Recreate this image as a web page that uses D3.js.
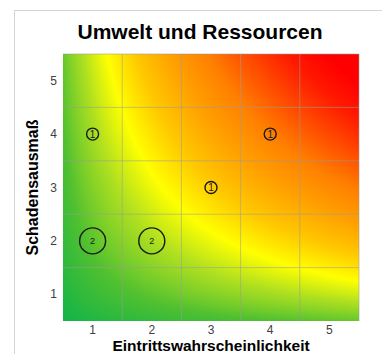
<!DOCTYPE html>
<html>
<head>
<meta charset="utf-8">
<script src="https://cdn.jsdelivr.net/npm/d3@7"></script>
<style>
  body { margin: 0; background: #fff; }
  svg { display: block; font-family: "Liberation Sans", Arial, sans-serif; }
</style>
</head>
<body>
<svg id="chart"></svg>
<script>
/* DATA */
const ticks = [1, 2, 3, 4, 5];
const probability = [1, 4, 3, 1, 2];   // Eintrittswahrscheinlichkeit
const damage = [4, 4, 3, 2, 2];        // Schadensausmaß
const counts = [1, 1, 1, 2, 2];        // number of risks in the cell

// heat map colour stops (risk level 0..1 -> colour)
const riskStops = [0.02, 0.22, 0.37, 0.47, 0.57, 0.67, 0.76, 0.84, 0.93, 1.0];
const riskColors = ["#00b04f", "#50c030", "#b0e020", "#ffff00", "#ffc800",
                    "#ffa000", "#ff8000", "#ff5000", "#ff1a00", "#ff0000"];

/* CONSTANTS */
const width = 382, height = 354;
const margin = { top: 54, right: 23, bottom: 33, left: 63 };

const svg = d3.select("#chart").attr("width", width).attr("height", height);

// outer panel frame
svg.append("rect")
  .attr("x", 14.5).attr("y", 10.5)
  .attr("width", 400).attr("height", 400)
  .attr("fill", "none")
  .attr("stroke", "#d4d4d4");

const x = d3.scaleLinear().domain([0.5, 5.5]).range([margin.left, width - margin.right]);
const y = d3.scaleLinear().domain([0.5, 5.5]).range([height - margin.bottom, margin.top]);
const color = d3.scaleLinear().domain(riskStops).range(riskColors).clamp(true);
const radius = d3.scaleLinear().domain([1, 2]).range([6, 13]);

/// background gradient drawn on a canvas, pixel by pixel
const pw = Math.round(x(5.5) - x(0.5)), ph = Math.round(y(0.5) - y(5.5));
const canvas = document.createElement("canvas");
canvas.width = pw; canvas.height = ph;
const ctx = canvas.getContext("2d");
const img = ctx.createImageData(pw, ph);
for (let j = 0; j < ph; j++) {
  for (let i = 0; i < pw; i++) {
    const u = (i + 0.5) / pw, v = 1 - (j + 0.5) / ph;
    const g = Math.sqrt((u + 0.06) * (v + 0.06));
    const c = d3.rgb(color(g));
    const k = (j * pw + i) * 4;
    img.data[k] = c.r; img.data[k + 1] = c.g; img.data[k + 2] = c.b; img.data[k + 3] = 255;
  }
}
ctx.putImageData(img, 0, 0);

svg.append("image")
  .attr("x", x(0.5)).attr("y", y(5.5))
  .attr("width", pw).attr("height", ph)
  .attr("preserveAspectRatio", "none")
  .attr("href", canvas.toDataURL());

// grid lines at the cell borders
const borders = d3.range(0.5, 6, 1);
svg.append("g").selectAll("line.v")
  .data(borders.slice(1))
  .join("line")
  .attr("x1", d => x(d)).attr("x2", d => x(d))
  .attr("y1", y(0.5)).attr("y2", y(5.5))
  .attr("stroke", "#9a9a9a").attr("stroke-opacity", 0.55);
svg.append("g").selectAll("line.h")
  .data(borders.slice(1))
  .join("line")
  .attr("x1", x(0.5)).attr("x2", x(5.5))
  .attr("y1", d => y(d)).attr("y2", d => y(d))
  .attr("stroke", "#9a9a9a").attr("stroke-opacity", 0.55);

// tick labels
svg.append("g").selectAll("text")
  .data(ticks)
  .join("text")
  .attr("x", d => x(d)).attr("y", 334)
  .attr("text-anchor", "middle")
  .attr("font-size", 12).attr("fill", "#404040")
  .text(d => d);

svg.append("g").selectAll("text")
  .data(ticks)
  .join("text")
  .attr("x", 57).attr("y", d => y(d) + 4)
  .attr("text-anchor", "end")
  .attr("font-size", 12).attr("fill", "#404040")
  .text(d => d);

// titles
svg.append("text")
  .attr("x", 200).attr("y", 39)
  .attr("text-anchor", "middle")
  .attr("font-size", 21).attr("font-weight", "bold")
  .text("Umwelt und Ressourcen");

svg.append("text")
  .attr("x", (x(0.5) + x(5.5)) / 2).attr("y", 350.5)
  .attr("text-anchor", "middle")
  .attr("font-size", 15.5).attr("font-weight", "bold")
  .text("Eintrittswahrscheinlichkeit");

svg.append("text")
  .attr("transform", `translate(38,${(y(0.5) + y(5.5)) / 2}) rotate(-90)`)
  .attr("text-anchor", "middle")
  .attr("font-size", 16).attr("font-weight", "bold")
  .text("Schadensausmaß");

// risk markers
const risks = probability.map((p, i) => ({ p, d: damage[i], n: counts[i] }));
const marks = svg.append("g").selectAll("g")
  .data(risks)
  .join("g")
  .attr("transform", d => `translate(${x(d.p)},${y(d.d)})`);

marks.append("circle")
  .attr("r", d => radius(d.n))
  .attr("fill", "none")
  .attr("stroke", "#1a1a1a")
  .attr("stroke-width", 1.4);

marks.append("text")
  .attr("text-anchor", "middle")
  .attr("dy", d => d.n > 1 ? 3 : 3.5)
  .attr("font-size", d => d.n > 1 ? 9 : 10)
  .attr("fill", "#1a1a1a")
  .text(d => d.n);
</script>
</body>
</html>
